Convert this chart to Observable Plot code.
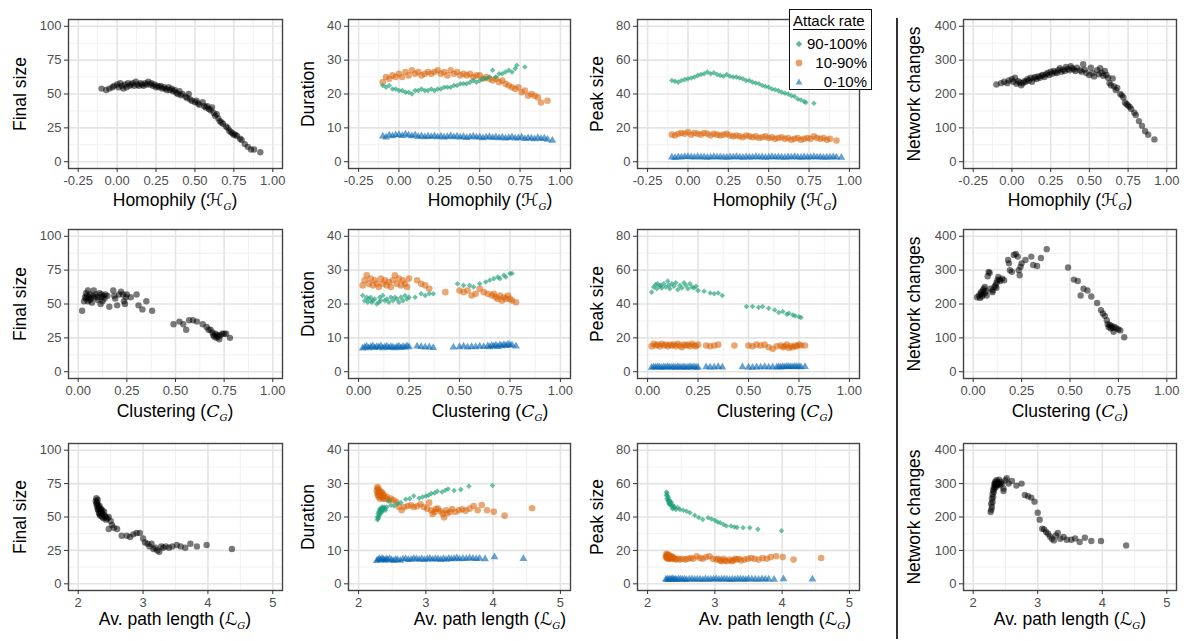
<!DOCTYPE html>
<html>
<head>
<meta charset="utf-8">
<script src="https://cdn.jsdelivr.net/npm/d3@7"></script>
<script src="https://cdn.jsdelivr.net/npm/@observablehq/plot@0.6"></script>
<style>
  html, body { margin: 0; padding: 0; background: #fff; }
  #root { position: relative; width: 1192px; height: 641px; overflow: hidden; background: #fff;
          font-family: "Liberation Sans", Arial, Helvetica, sans-serif; }
  .xtitle { position: absolute; font-size: 17.5px; line-height: 20px; color: #000; white-space: nowrap;
            transform: translateX(-50%); }
  .xtitle .cal { font-family: "DejaVu Sans", sans-serif; font-style: italic; }
  .xtitle .mi { font-family: "DejaVu Serif", serif; font-style: italic; }
  .xtitle sub { font-family: "DejaVu Serif", serif; font-style: italic; font-size: 10px; vertical-align: -4px; }
  #sep { position: absolute; left: 896px; top: 18px; width: 1.5px; height: 621px; background: #333; }
  #legend { position: absolute; left: 789px; top: 9px; width: 81px; height: 79px; border: 1.5px solid #111;
            background: #fff; z-index: 5; }
  #legend .lt { position: absolute; left: 3px; top: 2px; font-size: 15px; line-height: 17px; color: #000;
                border-bottom: 1px solid #000; }
  #legend .li { position: absolute; left: 0; width: 81px; height: 18px; }
  #legend .li svg { position: absolute; left: 2px; top: 2px; }
  #legend .li span { position: absolute; right: 4px; top: 0; font-size: 15px; line-height: 18px; color: #000; }
</style>
</head>
<body>
<div id="root"></div>
<script>
// ---------------- DATA ----------------
// Row 1: Homophily
const homX = [-0.10,-0.07,-0.05,-0.03,-0.02,0.00,0.01,0.02,0.03,0.04,0.05,0.06,0.07,0.08,0.09,0.10,0.11,0.12,0.13,0.14,0.15,0.16,0.17,0.18,0.19,0.20,0.21,0.22,0.23,0.24,0.25,0.26,0.27,0.28,0.29,0.30,0.31,0.32,0.33,0.34,0.35,0.36,0.37,0.38,0.39,0.40,0.41,0.42,0.44,0.45,0.46,0.47,0.48,0.50,0.51,0.52,0.53,0.55,0.56,0.57,0.58,0.59,0.60,0.61,0.62,0.63,0.64,0.65,0.66,0.67,0.68,0.70,0.71,0.72,0.73,0.74,0.75,0.76,0.77,0.79,0.80,0.82,0.84,0.86,0.88,0.92];
const finalSizeHom = [54,53,54,55,56,57,55,58,56,54,57,55,58,56,57,58,56,59,57,56,58,57,56,58,57,59,57,58,56,57,55,56,55,56,54,55,54,53,55,53,54,52,53,51,50,52,49,50,48,47,50,46,45,44,45,43,42,44,41,40,41,39,38,40,36,34,35,32,30,29,28,26,25,23,22,21,20,20,19,17,16,13,11,9,9,7];
const netChangesHom = [228,232,236,232,240,244,236,248,230,238,234,226,232,238,236,244,240,248,236,246,250,244,252,248,254,256,250,258,262,256,266,260,268,264,262,270,276,266,272,268,280,274,270,282,276,272,268,278,270,266,288,272,262,256,278,262,252,270,258,276,262,254,268,256,248,232,226,246,222,212,218,200,196,190,175,170,166,162,156,145,138,120,106,90,80,66];
const homGreenX = [-0.10,-0.08,-0.06,-0.04,-0.02,0.00,0.02,0.04,0.06,0.08,0.10,0.12,0.14,0.16,0.18,0.20,0.22,0.24,0.26,0.28,0.30,0.32,0.34,0.36,0.38,0.40,0.42,0.44,0.46,0.48,0.50,0.52,0.54,0.56,0.58,0.60,0.62,0.64,0.66,0.68,0.70,0.72,0.73,0.78];
const durationGreenHom = [22.5,22,22.5,21.5,21.5,21,21,20.5,20.5,20,21,21,21.5,21,21,21.5,21,21.5,21.5,22,22,22,22.5,22.5,23,23,23,23.5,24,23.5,24,24.5,24.5,25,27,25,26,26,26.5,27,26.5,27.5,28.5,28];
const peakGreenHom = [48,47.5,47,48,48.5,49,49.5,50,51,51.5,52,53,52,52.5,51.5,51,50.5,51.5,50.5,50,50,49.5,49,48,48,47,46.5,46,45,44.5,44,43,42.5,42,41,40.5,40,39,38.5,37,36.5,35.5,35,34.5];
const homOrangeX = [-0.10,-0.08,-0.06,-0.04,-0.02,0.00,0.02,0.04,0.06,0.08,0.10,0.12,0.14,0.16,0.18,0.20,0.22,0.24,0.26,0.28,0.30,0.32,0.34,0.36,0.38,0.40,0.42,0.44,0.46,0.48,0.50,0.52,0.54,0.56,0.58,0.60,0.62,0.64,0.66,0.68,0.70,0.72,0.74,0.76,0.78,0.80,0.82,0.84,0.86,0.88,0.92];
const durationOrangeHom = [23.5,25,24.5,25.5,25,26,25,26.5,25.5,27,26,26.5,25.5,26,26.5,26,26.5,27,26,26.5,25.5,27,26,26.5,25.5,26,25.5,26,25,25.5,25.5,24.5,25,24.5,24,24.5,23.5,24,23,22.5,22,21.5,22,20.5,21,19.5,20,19.5,19,17.5,18];
const peakOrangeHom = [16,15.5,16.5,17,16.5,17.5,16,17,16.5,16,17,16.5,15.5,16.5,16,15.5,16,16.5,15.5,15,15.5,15,14.5,15.5,15,14.5,15,14,14.5,15,14,14.5,13.5,14,14.5,13.5,14,13,13.5,14,13,13.5,14,13.5,15,14,13.5,14,13,13.5,12.5];
const homBlueX = [-0.10,-0.08,-0.06,-0.04,-0.02,0.00,0.02,0.04,0.06,0.08,0.10,0.12,0.14,0.16,0.18,0.20,0.22,0.24,0.26,0.28,0.30,0.32,0.34,0.36,0.38,0.40,0.42,0.44,0.46,0.48,0.50,0.52,0.54,0.56,0.58,0.60,0.62,0.64,0.66,0.68,0.70,0.72,0.74,0.76,0.78,0.80,0.82,0.84,0.86,0.88,0.90,0.92,0.95];
const durationBlueHom = [7.5,7.2,7.8,7.6,7.9,8.0,7.7,8.1,7.8,7.6,7.9,7.4,7.6,7.3,7.5,7.4,7.6,7.3,7.5,7.2,7.4,7.6,7.3,7.5,7.2,7.4,7.1,7.3,7.5,7.2,7.3,7.0,7.2,7.4,7.1,7.3,7.0,7.2,6.9,7.1,7.3,6.9,7.0,7.2,6.8,7.0,6.9,6.7,7.1,6.8,6.9,6.6,6.3];
const peakBlueHom = [2.6,2.4,2.8,2.7,2.9,3.0,2.8,2.6,2.9,2.7,2.8,2.5,2.7,2.9,2.6,2.8,2.7,2.5,2.8,2.6,2.9,2.7,2.5,2.8,2.6,2.7,2.9,2.6,2.8,2.5,2.7,2.9,2.6,2.8,2.7,2.5,2.8,2.6,2.9,2.7,2.5,2.8,2.6,2.7,2.9,2.6,2.8,2.5,2.7,2.6,2.8,2.6,2.5];

// Row 2: Clustering
const clusX = [0.02,0.03,0.035,0.04,0.04,0.045,0.05,0.05,0.055,0.06,0.06,0.065,0.07,0.075,0.08,0.085,0.09,0.10,0.10,0.11,0.115,0.12,0.12,0.125,0.13,0.135,0.14,0.15,0.16,0.18,0.185,0.19,0.20,0.21,0.22,0.23,0.235,0.24,0.245,0.25,0.27,0.30,0.31,0.33,0.35,0.38,0.49,0.52,0.54,0.555,0.57,0.59,0.61,0.64,0.66,0.67,0.68,0.69,0.695,0.70,0.705,0.71,0.715,0.72,0.725,0.73,0.74,0.75,0.76,0.78];
const finalSizeClus = [45,52,55,54,58,56,52,60,55,53,57,54,51,56,60,55,57,53,55,58,50,55,57,52,56,54,57,56,48,60,56,54,49,57,59,57,52,50,55,57,55,57,49,46,52,45,35,37,35,31,38,38,37,35,33,31,31,29,27,26,28,25,27,26,24,27,28,28,28,25];
const netChangesClus = [220,225,218,230,235,222,240,228,245,232,250,238,225,282,295,292,245,240,235,250,255,248,262,270,280,272,268,275,270,330,320,300,295,345,348,340,300,285,310,320,330,340,315,312,336,362,308,272,268,225,245,240,222,203,182,172,165,152,140,132,138,128,135,130,118,132,128,125,122,102];
const clusGreenX = [0.02,0.03,0.04,0.045,0.05,0.06,0.065,0.07,0.08,0.09,0.10,0.105,0.11,0.12,0.13,0.14,0.15,0.16,0.17,0.18,0.19,0.20,0.21,0.22,0.23,0.24,0.25,0.28,0.31,0.33,0.35,0.37,0.49,0.52,0.55,0.57,0.60,0.63,0.65,0.67,0.69,0.70,0.72,0.73,0.75,0.76];
const durationGreenClus = [22.5,21,22,20.5,21.5,22,20.5,21,21.5,20,20.5,22,21,22.5,21,21.5,20.5,22,21,22,21.5,20.5,22,21,22.5,21.5,22,22,23,22.5,23,23,26,25.5,25.5,25,26,26.5,27,27.5,28,27.5,28.5,28,29,29];
const peakGreenClus = [47,50,51.5,49,52,50.5,51,49.5,52,50,53.5,51,49,52,50.5,52.5,48.5,51,49.5,52.5,51,49,52,50,49.5,50.5,48,47.5,46.5,46,46.5,45,38.5,38.5,38,38.5,37.5,36.5,35,35.5,34,34.5,33.5,33,32.5,32];
const clusOrangeX = [0.02,0.03,0.04,0.05,0.06,0.07,0.08,0.09,0.10,0.11,0.12,0.13,0.14,0.15,0.16,0.17,0.18,0.19,0.20,0.21,0.22,0.23,0.24,0.25,0.29,0.31,0.33,0.35,0.43,0.50,0.52,0.54,0.56,0.58,0.60,0.62,0.64,0.66,0.67,0.68,0.69,0.70,0.71,0.72,0.73,0.74,0.75,0.76,0.78];
const durationOrangeClus = [25.5,27,28.5,26,27.5,25.5,27,26,25,27.5,26,27,25.5,26.5,25,27,28.5,26,27.5,25.5,27,26,25,27.5,27,26,25.5,24.5,23.5,24,23.5,24,22.5,23,24.5,23.5,23,22.5,23,22,21.5,22.5,21,22,21.5,22.5,21.5,21,20.5];
const peakOrangeClus = [15,16.5,15.5,16,15,16.5,15.5,16,15,16,15.5,16,15,16.5,15.5,14.5,16,15.5,16,15,16.5,15.5,15,16,15.5,15,15.5,16,15.5,15.5,15,16,15.5,16,14.5,13.5,15,15.5,14.5,15,16,14,15,14.5,15.5,15,16,15.5,15.5];
const clusBlueX = [0.02,0.03,0.04,0.05,0.06,0.07,0.08,0.09,0.10,0.11,0.12,0.13,0.14,0.15,0.16,0.17,0.18,0.19,0.20,0.21,0.22,0.23,0.24,0.25,0.29,0.31,0.33,0.35,0.37,0.47,0.50,0.52,0.54,0.56,0.58,0.60,0.62,0.64,0.65,0.66,0.67,0.68,0.69,0.70,0.71,0.72,0.73,0.74,0.75,0.76,0.78];
const durationBlueClus = [6.9,7.2,7.5,7.0,7.3,7.6,7.1,7.4,7.2,7.6,7.0,7.3,7.5,7.1,7.4,7.2,7.0,7.3,7.5,7.1,7.4,7.2,7.6,7.3,7.5,7.4,7.2,7.3,7.1,7.2,7.3,7.5,7.2,7.4,7.3,7.5,7.4,7.6,7.3,7.7,7.5,7.8,7.4,7.9,7.6,8.0,7.7,8.1,7.8,7.9,7.5];
const peakBlueClus = [2.5,2.8,2.6,2.9,2.7,2.5,2.8,2.6,2.9,2.7,2.6,2.8,2.5,2.9,2.7,2.6,2.8,2.5,2.7,2.9,2.6,2.8,2.7,2.5,2.8,2.6,2.7,2.9,2.6,2.8,2.7,2.5,2.8,2.6,2.9,2.7,2.8,2.6,2.9,2.7,3.0,2.8,3.1,2.9,3.0,2.8,3.1,2.9,3.0,2.8,2.9];

// Row 3: Average path length
const pathX = [2.27,2.28,2.28,2.29,2.29,2.30,2.30,2.31,2.31,2.32,2.32,2.33,2.33,2.34,2.34,2.35,2.35,2.36,2.37,2.37,2.38,2.39,2.40,2.41,2.42,2.43,2.45,2.47,2.47,2.50,2.52,2.55,2.60,2.67,2.75,2.80,2.85,2.90,2.95,3.00,3.03,3.07,3.10,3.13,3.16,3.19,3.22,3.25,3.28,3.31,3.35,3.40,3.45,3.52,3.58,3.65,3.73,3.83,3.98,4.37];
const finalSizePath = [62,64,60,61,58,63,56,59,55,57,53,58,52,55,51,56,53,54,50,55,52,49,54,51,50,48,49,50,41,47,44,42,41,36,36,35,37,38,38,34,31,30,28,30,26,27,25,24,28,27,28,27,28,29,28,27,30,28,29,26];
const netChangesPath = [215,222,240,230,255,245,268,260,280,275,290,285,300,295,305,298,290,310,300,295,305,298,312,300,295,305,300,285,278,310,316,300,308,294,300,266,262,258,246,213,192,165,163,155,150,142,135,130,145,152,135,140,132,132,136,125,138,128,128,115];
const pathGreenX = [2.28,2.28,2.29,2.29,2.30,2.30,2.31,2.31,2.32,2.32,2.33,2.33,2.34,2.35,2.35,2.36,2.37,2.38,2.39,2.40,2.42,2.45,2.48,2.53,2.58,2.63,2.70,2.76,2.82,2.90,2.95,3.00,3.04,3.08,3.13,3.17,3.24,3.29,3.33,3.42,3.52,3.64,3.99];
const durationGreenPath = [19.2,20,19.5,21,20,21.5,20.5,22,21,22.5,21.5,22,22.5,21.5,23,22,22.5,23,22.5,22,23,24.8,23.5,23.3,24,24.3,25.3,25.5,26.3,25.6,26,26.3,26.5,27,27.2,27.7,27.5,28,28.4,27.9,28.2,29.2,29.4];
const peakGreenPath = [55,53,54,51,52.5,50,51.5,49,50,48,49.5,47.5,48.5,47,49,46.5,45,47,45.5,46,44.5,45.6,44.5,44,43.5,42.5,41,39.7,38.5,39.5,38.8,38.1,37,36.6,35.5,34.6,34.6,34,33.8,33.6,33.6,32.6,31.8];
const pathOrangeX = [2.27,2.28,2.28,2.29,2.29,2.30,2.30,2.31,2.32,2.32,2.33,2.34,2.35,2.36,2.37,2.38,2.40,2.42,2.45,2.48,2.52,2.56,2.60,2.64,2.68,2.73,2.78,2.82,2.87,2.92,2.97,3.02,3.05,3.08,3.10,3.13,3.15,3.18,3.22,3.25,3.27,3.30,3.32,3.36,3.39,3.44,3.49,3.54,3.59,3.65,3.71,3.77,3.83,3.91,4.01,4.17,4.58];
const durationOrangePath = [28,29,27,28.5,26.5,27.5,26,28,27,25.5,26.5,27.5,26,27,25.5,26.5,25.5,26,25,25.5,25,24.5,23,22,23,23.3,23.5,23,23.2,23.8,23,22.5,24.3,22,20.9,21.5,22.4,22.5,21.7,21,19.9,22,21.1,21.5,22.4,21.5,22,22.3,21.9,22.5,23.3,22,23.6,22,21.6,20.4,22.6];
const peakOrangePath = [16,18,16.5,17,15.5,17.5,15,16,17,15,16,15.5,16.5,15,15.5,16,15,14.5,15,14.5,15,14.5,15,15.5,15,16.5,15.5,15,16,16.5,15,14.5,15,14,13.5,15,14,13.5,14.5,13.5,14,15,14.5,15,14,14.5,15,15.5,15,14.5,15.5,15,16,16.5,16,14.5,15.5];
const pathBlueX = [2.27,2.29,2.31,2.33,2.35,2.37,2.39,2.41,2.43,2.46,2.49,2.52,2.55,2.58,2.62,2.66,2.70,2.74,2.78,2.82,2.86,2.90,2.94,2.98,3.02,3.06,3.10,3.14,3.18,3.22,3.26,3.30,3.34,3.38,3.42,3.46,3.50,3.55,3.60,3.65,3.70,3.75,3.80,3.88,4.02,4.45];
const durationBluePath = [6.9,7.2,7.5,7.1,7.6,7.3,7.0,7.4,7.2,7.5,7.1,6.9,7.3,7.2,7.0,7.4,7.5,7.2,7.3,7.6,7.4,7.3,7.5,7.2,7.4,7.6,7.3,7.5,7.4,7.2,7.5,7.3,7.6,7.4,7.5,7.7,7.4,7.6,7.5,7.7,7.6,7.5,7.6,7.4,8.0,7.5];
const peakBluePath = [2.6,2.9,2.5,2.8,2.7,3.0,2.6,2.8,2.5,2.9,2.7,2.6,2.8,2.5,2.7,2.9,2.6,2.8,2.7,2.5,2.9,2.6,2.8,2.7,3.0,2.6,2.8,2.9,2.7,2.5,2.8,2.6,2.9,2.7,2.8,2.6,2.9,2.7,2.8,2.6,2.9,2.7,2.8,2.6,2.9,2.8];

// Axis tick labels / titles
const yLabels = ["Final size", "Duration", "Peak size", "Network changes"];
const yTicksByCol = [[0,25,50,75,100],[0,10,20,30,40],[0,20,40,60,80],[0,100,200,300,400]];
const xTicksByRow = [[-0.25,0,0.25,0.5,0.75,1],[0,0.25,0.5,0.75,1],[2,3,4,5]];
const xTitles = [
  'Homophily (<span class="cal">ℋ</span><sub>G</sub>)',
  'Clustering (<span class="mi">C</span><sub>G</sub>)',
  'Av. path length (<span class="cal">ℒ</span><sub>G</sub>)'
];
const legendLabels = ["90-100%", "10-90%", "0-10%"];

// ---------------- LAYOUT / STYLE ----------------
const cols = [{L:68,R:282,yOff:48},{L:348,R:570,yOff:40},{L:637,R:859,yOff:40},{L:963,R:1176,yOff:49}];
const rows = [{T:19,B:168},{T:229,B:378},{T:443,B:590}];
const xTitleX = [175, 490, 775, 1070];
const xTitleY = [200, 411, 619];
const yDomains = [[-5,105],[-2,42],[-4,84],[-20,420]];
const xDomains = [[-0.3125,1.0625],[-0.05,1.05],[1.85,5.15]];
const xFormats = [d => d.toFixed(2), d => d.toFixed(2), d => String(d)];
const yMinor = [[12.5,37.5,62.5,87.5],[5,15,25,35],[10,30,50,70],[50,150,250,350]];
const xMinor = [[-0.125,0.125,0.375,0.625,0.875],[0.125,0.375,0.625,0.875],[2.5,3.5,4.5]];

const sty = {
  black:  {symbol:"circle",   fill:"#000000", fillOpacity:0.52, r:3.2},
  green:  {symbol:"diamond2", fill:"#1B9E77", fillOpacity:0.65, r:2.5},
  orange: {symbol:"circle",   fill:"#D95F02", fillOpacity:0.55, r:3.3},
  blue:   {symbol:"triangle", fill:"#0062B0", fillOpacity:0.6,  r:2.9}
};

const zip = (xs, ys) => xs.map((x, i) => ({x, y: ys[i]}));

const panels = [
  {r:0,c:0,series:[["black", zip(homX, finalSizeHom)]]},
  {r:0,c:1,series:[["blue", zip(homBlueX, durationBlueHom)],["orange", zip(homOrangeX, durationOrangeHom)],["green", zip(homGreenX, durationGreenHom)]]},
  {r:0,c:2,series:[["blue", zip(homBlueX, peakBlueHom)],["orange", zip(homOrangeX, peakOrangeHom)],["green", zip(homGreenX, peakGreenHom)]]},
  {r:0,c:3,series:[["black", zip(homX, netChangesHom)]]},
  {r:1,c:0,series:[["black", zip(clusX, finalSizeClus)]]},
  {r:1,c:1,series:[["blue", zip(clusBlueX, durationBlueClus)],["orange", zip(clusOrangeX, durationOrangeClus)],["green", zip(clusGreenX, durationGreenClus)]]},
  {r:1,c:2,series:[["blue", zip(clusBlueX, peakBlueClus)],["orange", zip(clusOrangeX, peakOrangeClus)],["green", zip(clusGreenX, peakGreenClus)]]},
  {r:1,c:3,series:[["black", zip(clusX, netChangesClus)]]},
  {r:2,c:0,series:[["black", zip(pathX, finalSizePath)]]},
  {r:2,c:1,series:[["blue", zip(pathBlueX, durationBluePath)],["orange", zip(pathOrangeX, durationOrangePath)],["green", zip(pathGreenX, durationGreenPath)]]},
  {r:2,c:2,series:[["blue", zip(pathBlueX, peakBluePath)],["orange", zip(pathOrangeX, peakOrangePath)],["green", zip(pathGreenX, peakGreenPath)]]},
  {r:2,c:3,series:[["black", zip(pathX, netChangesPath)]]}
];

const root = document.getElementById("root");

for (const p of panels) {
  const {L, R, yOff} = cols[p.c];
  const {T, B} = rows[p.r];
  const mL = 60, mR = 12, mT = 8, mB = 28;
  const svg = Plot.plot({
    width: R - L + mL + mR,
    height: B - T + mT + mB,
    marginLeft: mL, marginRight: mR, marginTop: mT, marginBottom: mB,
    style: {background: "transparent", overflow: "visible", fontFamily: "'Liberation Sans', Arial, sans-serif", fontSize: "13px"},
    x: {domain: xDomains[p.r]},
    y: {domain: yDomains[p.c]},
    marks: [
      Plot.gridX(xMinor[p.r], {stroke: "#EDEDED", strokeOpacity: 1, strokeWidth: 0.8}),
      Plot.gridY(yMinor[p.c], {stroke: "#EDEDED", strokeOpacity: 1, strokeWidth: 0.8}),
      Plot.gridX(xTicksByRow[p.r], {stroke: "#E4E4E4", strokeOpacity: 1, strokeWidth: 1.6}),
      Plot.gridY(yTicksByCol[p.c], {stroke: "#E4E4E4", strokeOpacity: 1, strokeWidth: 1.6}),
      ...p.series.map(([k, data]) => Plot.dot(data, {x: "x", y: "y", ...sty[k], stroke: "none"})),
      Plot.frame({stroke: "#444", strokeWidth: 1.4}),
      Plot.axisX({ticks: xTicksByRow[p.r], tickFormat: xFormats[p.r], tickSize: 4, tickPadding: 3,
                  stroke: "#333", fill: "#4D4D4D", fontSize: 13, label: null}),
      Plot.axisY({ticks: yTicksByCol[p.c], tickSize: 4, tickPadding: 3,
                  stroke: "#333", fill: "#4D4D4D", fontSize: 13, label: null}),
      Plot.text([yLabels[p.c]], {frameAnchor: "left", dx: -yOff, rotate: -90, text: d => d,
                  fontSize: 17.5, fill: "#000", textAnchor: "middle", lineAnchor: "middle"})
    ]
  });
  svg.style.position = "absolute";
  svg.style.left = (L - mL) + "px";
  svg.style.top = (T - mT) + "px";
  root.appendChild(svg);
}

// x-axis titles (with math subscripts)
for (let r = 0; r < 3; r++) {
  for (let c = 0; c < 4; c++) {
    const d = document.createElement("div");
    d.className = "xtitle";
    d.innerHTML = xTitles[r];
    d.style.left = xTitleX[c] + "px";
    d.style.top = (xTitleY[r] - 10) + "px";
    root.appendChild(d);
  }
}

// separator
const sep = document.createElement("div");
sep.id = "sep";
root.appendChild(sep);

// legend
const leg = document.createElement("div");
leg.id = "legend";
const legendKeys = [
  {path: "M0,-3.3L3.3,0L0,3.3L-3.3,0Z", fill: sty.green.fill, op: 0.7},
  {circle: true, fill: sty.orange.fill, op: 0.6},
  {path: "M0,-3.6L3.4,2.4L-3.4,2.4Z", fill: sty.blue.fill, op: 0.6}
];
let html = '<div class="lt">Attack rate</div>';
const legY = [25, 44, 63];
legendLabels.forEach((lab, i) => {
  const k = legendKeys[i];
  const shape = k.circle
    ? `<circle cx="7" cy="7" r="3.4" fill="${k.fill}" fill-opacity="${k.op}"/>`
    : `<path transform="translate(7,7)" d="${k.path}" fill="${k.fill}" fill-opacity="${k.op}"/>`;
  html += `<div class="li" style="top:${legY[i]}px"><svg width="14" height="14">${shape}</svg><span>${lab}</span></div>`;
});
leg.innerHTML = html;
root.appendChild(leg);
</script>
</body>
</html>
